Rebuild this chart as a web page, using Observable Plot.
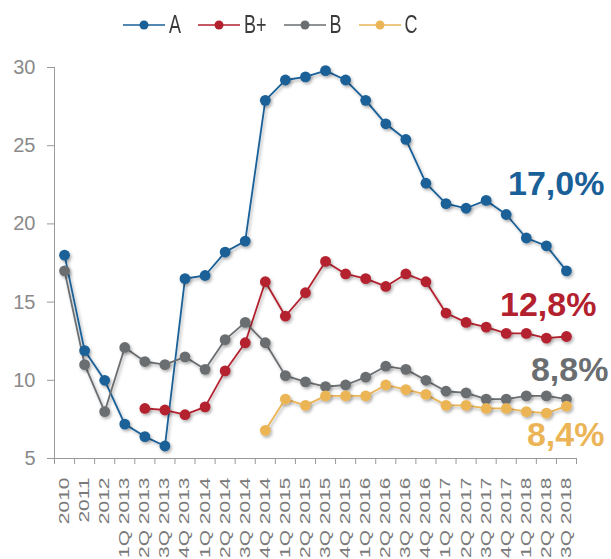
<!DOCTYPE html>
<html><head><meta charset="utf-8">
<script src="https://cdn.jsdelivr.net/npm/d3@7"></script>
<script src="https://cdn.jsdelivr.net/npm/@observablehq/plot@0.6"></script>
<style>
body{margin:0;background:#fff;font-family:"Liberation Sans",Arial,sans-serif;}
#legend{height:50px;display:flex;align-items:center;padding-left:123px;box-sizing:border-box;}
.item{display:flex;align-items:center;margin-right:17px;}
.item svg{margin-right:4px;display:block;}
.item span{font-size:18px;color:#3a3a3a;display:inline-block;transform:scaleY(1.4);line-height:1;}
</style></head><body>
<div id="legend"></div><div id="chart"></div>
<script>
const categories = ["2010","2011","2012",
  "1Q 2013","2Q 2013","3Q 2013","4Q 2013",
  "1Q 2014","2Q 2014","3Q 2014","4Q 2014",
  "1Q 2015","2Q 2015","3Q 2015","4Q 2015",
  "1Q 2016","2Q 2016","3Q 2016","4Q 2016",
  "1Q 2017","2Q 2017","3Q 2017","4Q 2017",
  "1Q 2018","2Q 2018","3Q 2018"];
const seriesNames = ["A","B+","B","C"];
const seriesColors = ["#1a6098","#b3212f","#6a6e71","#ebb557"];
const endLabels = ["17,0%","12,8%","8,8%","8,4%"];
const valuesA = [18.0,11.9,10.0,7.2,6.4,5.8,16.5,16.7,18.2,18.9,27.9,29.2,29.4,29.8,29.2,27.9,26.4,25.4,22.6,21.3,21.0,21.5,20.6,19.1,18.6,17.0];
const valuesBplus = [null,null,null,null,8.2,8.1,7.8,8.3,10.6,12.4,16.3,14.1,15.6,17.6,16.8,16.5,16.0,16.8,16.3,14.3,13.7,13.4,13.0,13.0,12.7,12.8];
const valuesB = [17.0,11.0,8.0,12.1,11.2,11.0,11.5,10.7,12.6,13.7,12.4,10.3,9.9,9.6,9.7,10.2,10.9,10.7,10.0,9.3,9.2,8.8,8.8,9.0,9.0,8.8];
const valuesC = [null,null,null,null,null,null,null,null,null,null,6.8,8.8,8.4,9.0,9.0,9.0,9.7,9.4,9.1,8.4,8.4,8.2,8.2,8.0,7.9,8.35];
const yTicks = [5,10,15,20,25,30];

const allValues = [valuesA, valuesBplus, valuesB, valuesC];
const data = [];
allValues.forEach((vals, s) => vals.forEach((v, i) => {
  if (v != null) data.push({series: seriesNames[s], i, value: v});
}));
const lastPoints = seriesNames.map((name, s) => {
  const vals = allValues[s];
  const i = vals.length - 1;
  return {series: name, i, value: vals[i], label: endLabels[s]};
});
const labelDx = [38, 30, 42, 38];
const labelDy = [-87, -31, -29, 29];

// legend
const legend = d3.select("#legend");
seriesNames.forEach((name, s) => {
  const item = legend.append("div").attr("class", "item");
  const sv = item.append("svg").attr("width", 42).attr("height", 14);
  sv.append("line").attr("x1", 0).attr("x2", 42).attr("y1", 7).attr("y2", 7)
    .attr("stroke", seriesColors[s]).attr("stroke-width", 1.6);
  sv.append("circle").attr("cx", 21).attr("cy", 7).attr("r", 4.5).attr("fill", seriesColors[s]);
  item.append("span").text(name);
});

const idx = d3.range(categories.length);
const bounds = d3.range(categories.length + 1).map(i => i - 0.5);
const color = {domain: seriesNames, range: seriesColors};

const chart = Plot.plot({
  width: 611,
  height: 509,
  marginTop: 17,
  marginBottom: 101,
  marginLeft: 54,
  marginRight: 35,
  style: {fontFamily: "Liberation Sans, Arial, sans-serif", background: "#fff", overflow: "visible"},
  x: {type: "linear", domain: [-0.5, categories.length - 0.5]},
  y: {domain: [5, 30]},
  color,
  marks: [
    Plot.ruleX([-0.5], {stroke: "#999", strokeWidth: 1}),
    Plot.ruleY([5], {stroke: "#999", strokeWidth: 1}),
    Plot.axisY(yTicks, {tickSize: 7, tickPadding: 12, fontSize: 20, color: "#8a8a8a", stroke: "#999", label: null}),
    Plot.axisX(bounds, {tickSize: 6, tickFormat: () => "", stroke: "#999", label: null}),
    Plot.axisX(idx, {tickSize: 0, tickPadding: 19, tickRotate: -90, fontSize: 14, fill: "#7a7a7a",
      tickFormat: i => categories[i], label: null}),
    Plot.line(data, {x: "i", y: "value", z: "series", stroke: d => d.series, strokeWidth: 1.8}),
    Plot.dot(data, {x: "i", y: "value", fill: d => d.series, r: 5.4}),
    Plot.text(lastPoints, {x: "i", y: "value", text: "label", fill: d => d.series,
      textAnchor: "end", fontSize: 34, fontWeight: "bold"})
  ]
});
document.getElementById("chart").append(chart);

const svg = d3.select(chart);
const defs = svg.insert("defs", ":first-child");
const f = defs.append("filter").attr("id", "shadow").attr("x", "-20%").attr("y", "-20%").attr("width", "140%").attr("height", "140%");
f.append("feDropShadow").attr("dx", 1.5).attr("dy", 2).attr("stdDeviation", 1.5).attr("flood-color", "#000").attr("flood-opacity", 0.3);
svg.selectAll('g[aria-label="line"], g[aria-label="dot"]').attr("filter", "url(#shadow)");

// stretch rotated x tick labels along their direction
svg.selectAll('g[aria-label="x-axis tick label"] text').each(function() {
  const t = this.getAttribute("transform");
  if (t) this.setAttribute("transform", t + " scale(1.5,1)");
});
// offset end labels
svg.selectAll('g[aria-label="text"] text').each(function(d, k) {
  const t = this.getAttribute("transform") || "";
  this.setAttribute("transform", t + ` translate(${labelDx[k]},${labelDy[k]})`);
});
</script>
</body></html>
